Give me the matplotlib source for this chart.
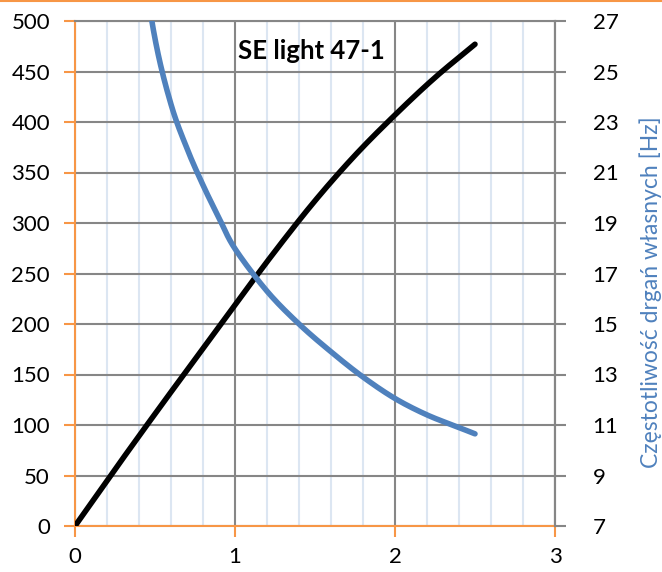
import matplotlib
matplotlib.use('Agg')
import matplotlib.pyplot as plt
from matplotlib.lines import Line2D
import numpy as np

plt.rcParams['font.family'] = ['Lato', 'DejaVu Sans']

# dane
x_load = [0, 0.25, 0.5, 0.75, 1.0, 1.25, 1.5, 1.75, 2.0, 2.25, 2.5]
load = [0, 56, 111, 165, 219, 272, 322, 367, 407, 444, 477]

x_freq = [0.4, 0.5, 0.6, 0.7, 0.8, 0.9, 1.0, 1.2, 1.4, 1.6, 1.8, 2.0, 2.2, 2.4, 2.5]
freq = [30.3, 26.3, 23.7, 21.95, 20.5, 19.2, 17.98, 16.3, 15.0, 13.9, 12.9, 12.05, 11.4, 10.9, 10.65]

title = 'SE light 47-1'
right_label = 'Częstotliwość drgań własnych [Hz]'

orange = '#F79646'
grid_gray = '#868686'
minor_blue = '#DCE6F2'
blue = '#4F81BD'


def smooth(xs, ys, n=20):
    # wygładzenie linii jak w Excelu (Catmull-Rom)
    p = np.column_stack([xs, ys]).astype(float)
    p = np.vstack([2 * p[0] - p[1], p, 2 * p[-1] - p[-2]])
    out = []
    t = np.linspace(0, 1, n, endpoint=False)[:, None]
    for i in range(1, len(p) - 2):
        p0, p1, p2, p3 = p[i - 1], p[i], p[i + 1], p[i + 2]
        seg = 0.5 * (2 * p1 + (-p0 + p2) * t
                     + (2 * p0 - 5 * p1 + 4 * p2 - p3) * t ** 2
                     + (-p0 + 3 * p1 - 3 * p2 + p3) * t ** 3)
        out.append(seg)
    out.append(p[-2][None, :])
    out = np.vstack(out)
    return out[:, 0], out[:, 1]


fig = plt.figure(figsize=(6.62, 5.72), dpi=100)
ax = fig.add_axes([75 / 662, 46 / 572, 480 / 662, 505 / 572])

ax.set_xlim(0, 3)
ax.set_ylim(0, 500)
ax.set_xticks([0, 1, 2, 3])
ax.set_xticks([i * 0.2 for i in range(15)], minor=True)
ax.set_yticks(range(0, 501, 50))

ax.grid(which='minor', axis='x', color=minor_blue, lw=1.5, zorder=0)
ax.grid(which='major', axis='x', color=grid_gray, lw=1.5, zorder=1)
ax.grid(which='major', axis='y', color=grid_gray, lw=1.5, zorder=1)
ax.set_axisbelow(True)

ax.spines['left'].set_color(orange)
ax.spines['bottom'].set_color(orange)
ax.spines['top'].set_color(grid_gray)
ax.spines['right'].set_color(grid_gray)
for s in ax.spines.values():
    s.set_linewidth(1.5)

ax.tick_params(axis='x', which='major', color=orange, length=8, width=1.5,
               labelsize=16, pad=7)
ax.tick_params(axis='x', which='minor', length=0)
ax.tick_params(axis='y', color=orange, length=8, width=1.5, labelsize=16, pad=10)

sx, sy = smooth(x_load, load)
ax.plot(sx, sy, color='black', lw=4, solid_capstyle='round', zorder=3)

ax.text(1.48, 470, title, ha='center', va='center', fontsize=18.5,
        fontweight='bold')

ax2 = ax.twinx()
ax2.set_ylim(7, 27)
ax2.set_yticks(range(7, 28, 2))
ax2.spines['left'].set_visible(False)
ax2.spines['bottom'].set_visible(False)
ax2.spines['top'].set_visible(False)
ax2.spines['right'].set_color(grid_gray)
ax2.spines['right'].set_linewidth(1.5)
ax2.tick_params(axis='y', color=grid_gray, length=8, width=1.5, labelsize=16,
                pad=19)
fx, fy = smooth(x_freq, freq)
ax2.plot(fx, fy, color=blue, lw=4, solid_capstyle='round', zorder=3)
ax2.set_ylabel(right_label, color=blue, fontsize=16.5)
ax2.yaxis.set_label_coords(1.175, 0.463)

# pomarańczowa linia na górze ramki
fig.add_artist(Line2D([0, 1], [0.998, 0.998], color=orange, lw=1.5,
                      transform=fig.transFigure))

fig.savefig('out.png', dpi=100)
